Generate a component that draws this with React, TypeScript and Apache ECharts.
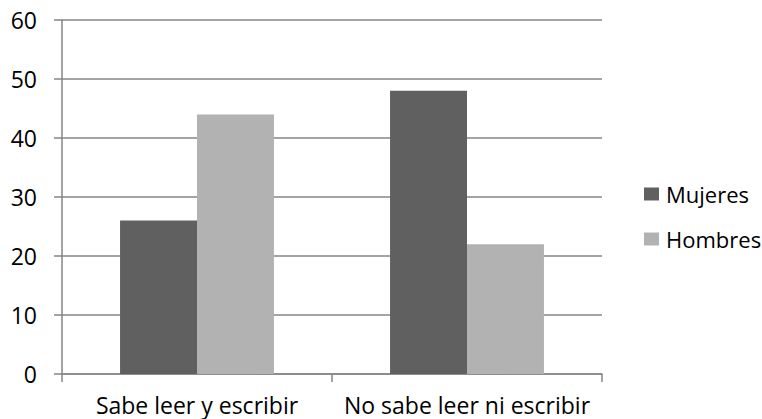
import React, { useEffect, useRef } from "react";
import * as echarts from "echarts";

const categories = ["Sabe leer y escribir", "No sabe leer ni escribir"];
const mujeres = [26, 48];
const hombres = [44, 22];
const seriesNames = ["Mujeres", "Hombres"];

export default function App() {
  const ref = useRef<HTMLDivElement>(null);
  useEffect(() => {
    const chart = echarts.init(ref.current!, null, { renderer: "svg" });
    const font = "'Open Sans', 'Liberation Sans', sans-serif";
    const axisColor = "#868686";
    chart.setOption({
      animation: false,
      textStyle: { fontFamily: font },
      grid: { left: 62, right: 160, top: 20, bottom: 45, containLabel: false },
      legend: {
        orient: "vertical",
        left: 644,
        top: 183,
        padding: 0,
        itemWidth: 15,
        itemHeight: 13,
        itemGap: 23,
        icon: "rect",
        textStyle: { fontSize: 22, color: "#000", fontFamily: font, padding: [0, 0, 0, 2] },
        data: seriesNames,
      },
      xAxis: {
        type: "category",
        data: categories,
        axisLine: { lineStyle: { color: axisColor, width: 1.5 } },
        axisTick: { show: true, length: 8, inside: false, lineStyle: { color: axisColor, width: 1.5 } },
        axisLabel: { interval: 0, fontSize: 23, color: "#000", margin: 19, fontFamily: font },
      },
      yAxis: {
        type: "value",
        min: 0,
        max: 60,
        interval: 10,
        axisLine: { show: true, lineStyle: { color: axisColor, width: 1.5 } },
        axisTick: { show: true, length: 8, lineStyle: { color: axisColor, width: 1.5 } },
        axisLabel: { fontSize: 23, color: "#000", margin: 25, fontFamily: font },
        splitLine: { show: true, lineStyle: { color: axisColor, width: 1.5 } },
      },
      series: [
        {
          name: seriesNames[0],
          type: "bar",
          data: mujeres,
          barGap: "0%",
          barCategoryGap: "43%",
          itemStyle: { color: "#606060" },
        },
        {
          name: seriesNames[1],
          type: "bar",
          data: hombres,
          barGap: "0%",
          barCategoryGap: "43%",
          itemStyle: { color: "#b2b2b2" },
        },
      ],
    });
    return () => chart.dispose();
  }, []);
  return <div ref={ref} style={{ width: 762, height: 419, position: "absolute", left: 0, top: 0 }} />;
}
